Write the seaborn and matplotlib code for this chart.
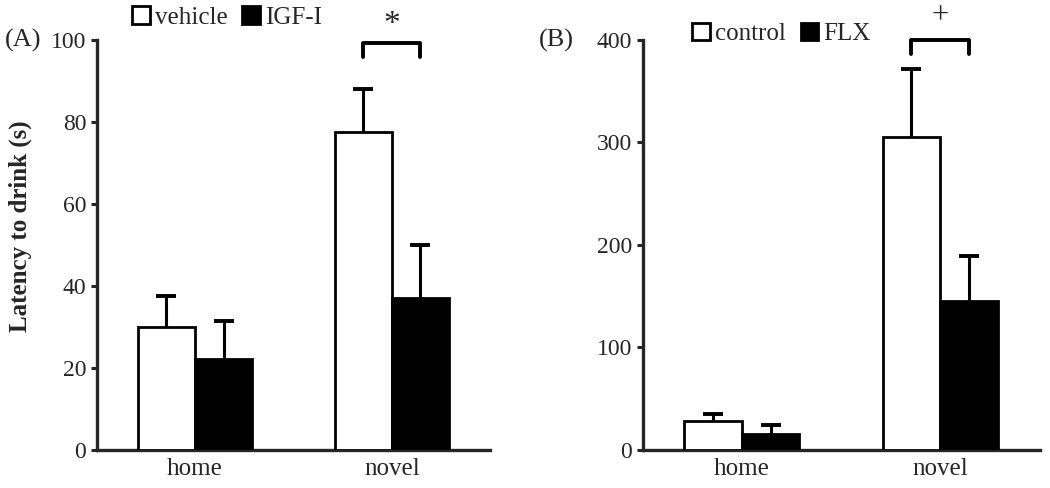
import numpy as np
import pandas as pd
import matplotlib
matplotlib.use('Agg')
import matplotlib.pyplot as plt
import seaborn as sns

sns.set_style("ticks")
plt.rcParams['font.family'] = ['Liberation Serif', 'DejaVu Serif']

# data
contexts = ['home', 'novel']
groups_a = ['vehicle', 'IGF-I']
mean_a_vehicle = [30.0, 77.5]
err_a_vehicle = [7.5, 10.5]
mean_a_igf = [22.2, 37.0]
err_a_igf = [9.3, 13.0]

groups_b = ['control', 'FLX']
mean_b_control = [28.0, 305.0]
err_b_control = [7.5, 67.0]
mean_b_flx = [15.5, 145.0]
err_b_flx = [8.5, 44.0]


def long_frame(groups, m1, e1, m2, e2):
    rows = []
    for g, ms, es in [(groups[0], m1, e1), (groups[1], m2, e2)]:
        for c, m, e in zip(contexts, ms, es):
            rows.append({'context': c, 'group': g, 'mean': m, 'err': e})
    return pd.DataFrame(rows)


df_a = long_frame(groups_a, mean_a_vehicle, err_a_vehicle, mean_a_igf, err_a_igf)
df_b = long_frame(groups_b, mean_b_control, err_b_control, mean_b_flx, err_b_flx)


def draw_panel(ax, df, groups, ymax, ystep, sig_text, sig_y, sig_size, sig_off, leg_anchor):
    sns.barplot(data=df, x='context', y='mean', hue='group', hue_order=groups,
                order=contexts, palette=['white', 'black'], edgecolor='black',
                linewidth=2, width=0.58, gap=0, errorbar=None, ax=ax, zorder=3)
    bars = [p for p in ax.patches if p.get_width() > 0 and p.get_height() > 0]
    # patches are ordered by hue then category
    vals = []
    for g in groups:
        sub = df[df['group'] == g].set_index('context').loc[contexts]
        vals += list(zip(sub['mean'], sub['err']))
    # one-sided error bars (upper cap only)
    for bar, (m, e) in zip(bars, vals):
        x = bar.get_x() + bar.get_width() / 2
        eb = ax.errorbar(x, m, yerr=[[0], [e]], fmt='none', ecolor='black',
                         elinewidth=2.2, capsize=7, capthick=2.8, zorder=2)
        eb[1][0].set_visible(False)

    ax.set_ylim(0, ymax)
    ax.set_xlim(-0.5, 1.5)
    ax.set_yticks(np.arange(0, ymax + 1, ystep))
    ax.set_xlabel('')
    ax.set_ylabel('')
    sns.despine(ax=ax)
    for s in ['left', 'bottom']:
        ax.spines[s].set_linewidth(2.4)
    ax.tick_params(axis='y', length=4, width=2.2, labelsize=17)
    ax.tick_params(axis='x', length=0, labelsize=18, pad=6)

    # significance bracket over the novel bars
    x1 = bars[1].get_x() + bars[1].get_width() / 2
    x2 = bars[3].get_x() + bars[3].get_width() / 2
    lo = sig_y - ymax * 0.034
    ax.plot([x1, x1, x2, x2], [lo, sig_y, sig_y, lo], color='black', lw=2.8,
            clip_on=False, solid_joinstyle='round', solid_capstyle='round')
    ax.text((x1 + x2) / 2, sig_y + ymax * sig_off, sig_text, ha='center',
            va='center', fontsize=sig_size, clip_on=False)

    h, l = ax.get_legend_handles_labels()
    ax.legend(h, l, loc='center left', bbox_to_anchor=leg_anchor, ncol=2,
              frameon=False, fontsize=18, handlelength=0.7, handleheight=0.7,
              handletextpad=0.2, columnspacing=0.6, borderaxespad=0)


fig = plt.figure(figsize=(10.5, 4.88), dpi=100)
ax_a = fig.add_axes([0.092, 0.078, 0.375, 0.84])
ax_b = fig.add_axes([0.612, 0.078, 0.378, 0.84])

draw_panel(ax_a, df_a, groups_a, 100, 20, '*', 99.3, 24, 0.045, (0.065, 1.055))
draw_panel(ax_b, df_b, groups_b, 400, 100, '+', 400, 22, 0.06, (0.1, 1.015))

ax_a.set_ylabel('Latency to drink (s)', fontsize=18, fontweight='bold')
ax_a.yaxis.set_label_coords(-0.165, 0.545)
fig.text(0.005, 0.918, '(A)', fontsize=19, va='center')
fig.text(0.513, 0.918, '(B)', fontsize=19, va='center')

fig.savefig('out.png', dpi=100)
